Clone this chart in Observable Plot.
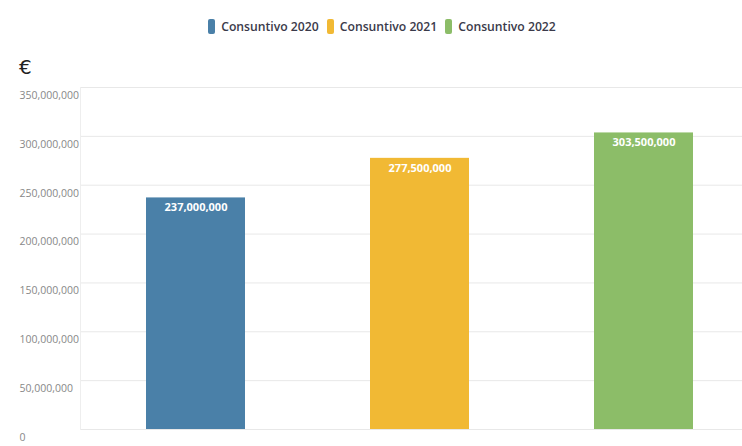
<!DOCTYPE html>
<html>
<head>
<meta charset="utf-8">
<script src="https://cdn.jsdelivr.net/npm/d3@7"></script>
<script src="https://cdn.jsdelivr.net/npm/@observablehq/plot@0.6"></script>
<style>
  html, body { margin: 0; padding: 0; background: #fff; }
  #wrap { position: relative; width: 742px; height: 446px; font-family: "Open Sans", "Noto Sans", sans-serif; overflow: hidden; }
  #legend { position: absolute; top: 18px; left: 11px; width: 742px; text-align: center; font-size: 12.2px; font-weight: 600; color: #3a3a4a; white-space: nowrap; }
  #legend span.item { display: inline-block; margin: 0 4px; }
  #legend span.sw { display: inline-block; width: 7px; height: 15px; border-radius: 2px; vertical-align: -3px; margin-right: 6px; }
  #euro { position: absolute; left: 19px; top: 55px; font-size: 20px; color: #222; font-family: "DejaVu Sans", sans-serif; }
  #chart { position: absolute; left: 0; top: 40px; }
</style>
</head>
<body>
<div id="wrap">
  <div id="legend"></div>
  <div id="euro">€</div>
  <div id="chart"></div>
</div>
<script>
const categories = ["Consuntivo 2020", "Consuntivo 2021", "Consuntivo 2022"];
const values = [237000000, 277500000, 303500000];
const colors = ["#4a80a8", "#f1b934", "#8cbd68"];
const yTicks = [0, 50000000, 100000000, 150000000, 200000000, 250000000, 300000000, 350000000];

const data = categories.map((c, i) => ({category: c, value: values[i]}));
const fmt = d3.format(",");

const legend = document.getElementById("legend");
categories.forEach((c, i) => {
  const item = document.createElement("span");
  item.className = "item";
  item.innerHTML = `<span class="sw" style="background:${colors[i]}"></span>${c}`;
  legend.appendChild(item);
});

const chart = Plot.plot({
  width: 742,
  height: 406,
  marginTop: 47,
  marginBottom: 17,
  marginLeft: 80,
  marginRight: 0,
  style: {background: "transparent", fontFamily: "Open Sans, Noto Sans, sans-serif"},
  x: {domain: categories, paddingInner: 0.556, paddingOuter: 0.25, align: 0.58, axis: null},
  y: {domain: [0, 350000000]},
  color: {domain: categories, range: colors},
  marks: [
    Plot.gridY(yTicks, {stroke: "#e8e8e8", strokeOpacity: 1}),
    Plot.frame({anchor: "left", stroke: "#eeeeee"}),
    Plot.axisY(yTicks, {tickSize: 0, tickFormat: fmt, textAnchor: "start", dx: -52, dy: 8, fontSize: 10.5, fill: "#888", label: null}),
    Plot.barY(data, {x: "category", y: "value", fill: "category"}),
    Plot.text(data, {x: "category", y: "value", text: d => fmt(d.value), dy: 10, fill: "white", fontWeight: "bold", fontSize: 11})
  ]
});
document.getElementById("chart").appendChild(chart);
</script>
</body>
</html>
